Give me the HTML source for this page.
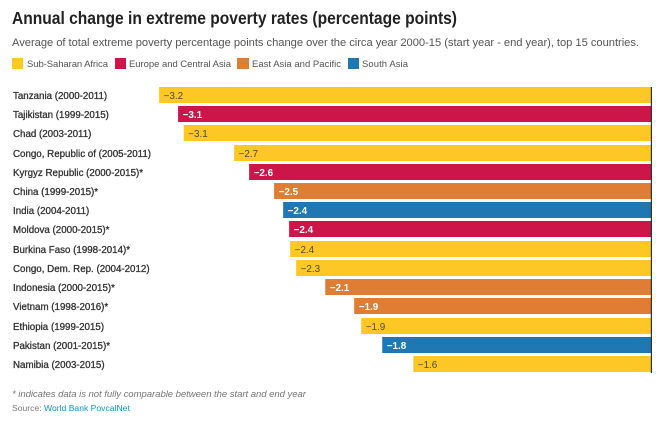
<!DOCTYPE html>
<html>
<head>
<meta charset="utf-8">
<style>
html,body{margin:0;padding:0;background:#fff;width:668px;height:421px;overflow:hidden}
svg{display:block;font-family:"Liberation Sans",sans-serif}
</style>
</head>
<body>
<svg id="chart" width="668" height="421" viewBox="0 0 668 421" xmlns="http://www.w3.org/2000/svg">
  <rect width="668" height="421" fill="#fff"/>
  <text x="12" y="24" font-size="17.4" font-weight="bold" fill="#222" textLength="445" lengthAdjust="spacingAndGlyphs">Annual change in extreme poverty rates (percentage points)</text>
  <text x="12" y="46" font-size="11.2" fill="#555" textLength="627" lengthAdjust="spacing">Average of total extreme poverty percentage points change over the circa year 2000-15 (start year - end year), top 15 countries.</text>

  <g>
    <rect x="12" y="58" width="11" height="11" fill="#fdc726"/>
    <text x="27" y="67" font-size="9.5" fill="#555" textLength="81" lengthAdjust="spacing">Sub-Saharan Africa</text>
    <rect x="115" y="58" width="11" height="11" fill="#cc1549"/>
    <text x="129" y="67" font-size="9.5" fill="#555" textLength="102" lengthAdjust="spacing">Europe and Central Asia</text>
    <rect x="237" y="58" width="12" height="11" fill="#de7d33"/>
    <text x="252" y="67" font-size="9.5" fill="#555" textLength="89" lengthAdjust="spacing">East Asia and Pacific</text>
    <rect x="348" y="58" width="11" height="11" fill="#2078b3"/>
    <text x="362" y="67" font-size="9.5" fill="#555" textLength="46" lengthAdjust="spacing">South Asia</text>
  </g>

  <g id="rows"></g>
  <line x1="651.4" y1="87" x2="651.4" y2="373" stroke="#333" stroke-width="1.2"/>

  <text x="12" y="397" font-size="9.6" font-style="italic" fill="#777" textLength="294" lengthAdjust="spacing">* indicates data is not fully comparable between the start and end year</text>
  <text x="12" y="411" font-size="8.6" fill="#777">Source: <tspan fill="#0e96d8">World Bank PovcalNet</tspan></text>
</svg>
<script>
const countries = ["Tanzania (2000-2011)","Tajikistan (1999-2015)","Chad (2003-2011)","Congo, Republic of (2005-2011)","Kyrgyz Republic (2000-2015)*","China (1999-2015)*","India (2004-2011)","Moldova (2000-2015)*","Burkina Faso (1998-2014)*","Congo, Dem. Rep. (2004-2012)","Indonesia (2000-2015)*","Vietnam (1998-2016)*","Ethiopia (1999-2015)","Pakistan (2001-2015)*","Namibia (2003-2015)"];
const changes = [-3.212,-3.088,-3.051,-2.722,-2.624,-2.461,-2.402,-2.363,-2.356,-2.317,-2.127,-1.938,-1.892,-1.755,-1.552];
const regions = ["ssa","eca","ssa","ssa","eca","eap","sa","eca","ssa","ssa","eap","eap","ssa","sa","ssa"];

const regionFill = {ssa:"#fdc726",eca:"#cc1549",eap:"#de7d33",sa:"#2078b3"};
const regionText = {ssa:"#4a4a3e",eca:"#fff",eap:"#fff",sa:"#fff"};
const xScale = v => 651 + v * 153.15;
const yScale = i => 87 + i * 19.21;
const barHeight = 16;
const NS = "http://www.w3.org/2000/svg";
const rows = document.getElementById("rows");

countries.forEach((name, i) => {
  const v = changes[i];
  const r = regions[i];
  const y = Math.round(yScale(i));
  const x = xScale(v);

  const label = document.createElementNS(NS, "text");
  label.setAttribute("x", 13);
  label.setAttribute("y", y + 12);
  label.setAttribute("font-size", "9.75");
  label.setAttribute("fill", "#333");
  label.setAttribute("stroke", "#333");
  label.setAttribute("stroke-width", "0.3");
  label.textContent = name;
  
  
  rows.appendChild(label);

  const bar = document.createElementNS(NS, "rect");
  bar.setAttribute("x", x);
  bar.setAttribute("y", y);
  bar.setAttribute("width", xScale(0) - x);
  bar.setAttribute("height", barHeight);
  bar.setAttribute("fill", regionFill[r]);
  
  
  rows.appendChild(bar);

  const val = document.createElementNS(NS, "text");
  val.setAttribute("x", x + 4.5);
  val.setAttribute("y", y + 12);
  val.setAttribute("font-size", "9.9");
  val.setAttribute("fill", regionText[r]);
  if (r !== "ssa") val.setAttribute("font-weight", "bold");
  val.textContent = "\u2212" + Math.abs(v).toFixed(1);
  
  
  rows.appendChild(val);
});
</script>
</body>
</html>
